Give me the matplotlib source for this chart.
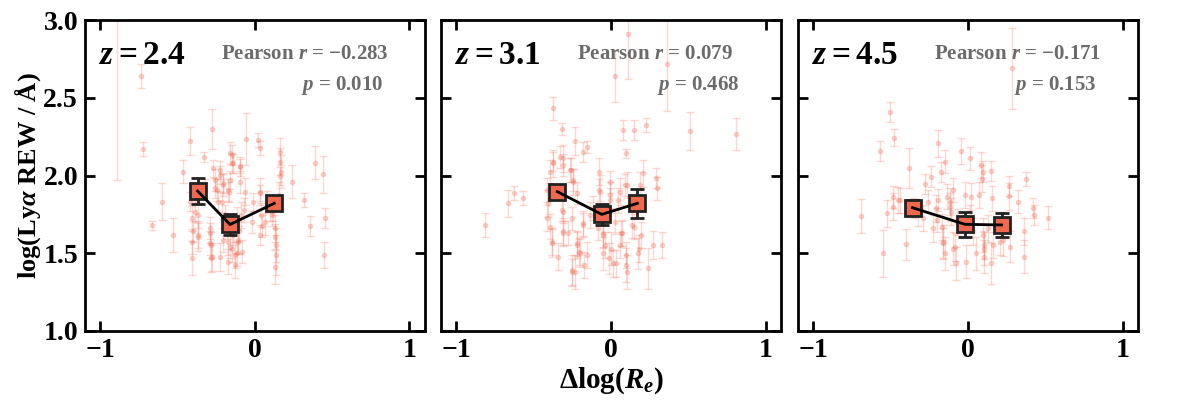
import matplotlib
matplotlib.use("Agg")
import matplotlib.pyplot as plt
import numpy as np

plt.rcParams["font.family"] = ["Liberation Serif", "DejaVu Serif"]
plt.rcParams["font.weight"] = "bold"
plt.rcParams["mathtext.fontset"] = "custom"
plt.rcParams["mathtext.rm"] = "Liberation Serif:bold"
plt.rcParams["mathtext.it"] = "Liberation Serif:italic:bold"
plt.rcParams["mathtext.bf"] = "Liberation Serif:bold"

# panel labels and statistics
redshifts = ["2.4", "3.1", "4.5"]
pearson_r = ["-0.283", "0.079", "-0.171"]
p_values = ["0.010", "0.468", "0.153"]

# z = 2.4 individual galaxies
x1 = [-0.895, -0.737, -0.722, -0.604, -0.664, -0.528, -0.468, -0.418, -0.41, -0.41,
      -0.37, -0.366, -0.33, -0.29, -0.284, -0.284, -0.276, -0.27, -0.259, -0.226,
      -0.215, -0.205, -0.194, -0.177, -0.166, -0.159, -0.151, -0.146, -0.151, -0.14,
      -0.129, -0.108, -0.095, -0.09, -0.086, -0.056, -0.064, 0.022, 0.033, 0.033,
      0.039, 0.033, 0.065, 0.162, 0.164, 0.169, 0.156, 0.134, 0.134, 0.13,
      0.242, 0.32, 0.358, 0.389, 0.443, 0.453, 0.449, -0.418, -0.388, -0.323,
      -0.237, -0.183, -0.118, -0.172, -0.101, -0.021, -0.01, 0.076, 0.108, 0.119,
      -0.41, -0.40, -0.367, -0.29, -0.29, -0.28, -0.226, -0.259, -0.248, -0.205,
      -0.172, -0.144, -0.161, -0.097, -0.097, -0.071, -0.108, -0.118, -0.161, -0.205,
      -0.226, -0.129, 0.162, 0.033, 0.044, 0.13, 0.13, 0.097]
y1 = [3.2, 2.64, 2.17, 1.832, 1.68, 1.617, 2.025, 2.22, 1.47, 1.575,
      1.62, 1.745, 2.12, 1.63, 1.553, 1.467, 2.30, 2.046, 1.918, 2.003,
      1.832, 1.94, 1.746, 1.575, 1.896, 1.971, 2.132, 2.08, 1.53, 1.617,
      1.49, 1.575, 2.06, 1.746, 1.51, 2.235, 1.896, 2.228, 2.175, 1.896,
      1.746, 1.617, 1.70, 2.153, 2.09, 2.025, 1.875, 1.553, 1.489, 1.66,
      1.96, 1.842, 1.677, 2.083, 2.007, 1.729, 1.489, 1.832, 1.768, 1.918,
      1.832, 1.66, 1.725, 1.446, 1.64, 1.70, 1.83, 1.83, 1.746, 1.77,
      1.725, 1.64, 1.607, 1.662, 1.566, 1.478, 2.035, 1.97, 1.907, 1.95,
      1.907, 2.078, 2.143, 2.057, 1.96, 1.778, 1.585, 1.50, 1.542, 1.585,
      1.478, 1.424, 1.997, 1.886, 1.675, 1.607, 1.41, 1.778]
e1 = [1.23, 0.079, 0.047, 0.12, 0.03, 0.107, 0.075, 0.09, 0.107, 0.08,
      0.085, 0.085, 0.03, 0.065, 0.085, 0.085, 0.13, 0.055, 0.065, 0.055,
      0.065, 0.075, 0.065, 0.085, 0.065, 0.055, 0.065, 0.065, 0.085, 0.065,
      0.085, 0.075, 0.045, 0.085, 0.075, 0.17, 0.085, 0.045, 0.045, 0.085,
      0.075, 0.065, 0.085, 0.085, 0.085, 0.107, 0.085, 0.107, 0.13, 0.085,
      0.107, 0.045, 0.065, 0.107, 0.12, 0.065, 0.085, 0.06, 0.07, 0.06,
      0.07, 0.07, 0.07, 0.08, 0.07, 0.07, 0.06, 0.07, 0.07, 0.06,
      0.08, 0.07, 0.09, 0.07, 0.08, 0.09, 0.06, 0.07, 0.07, 0.06,
      0.07, 0.06, 0.07, 0.06, 0.07, 0.08, 0.09, 0.08, 0.07, 0.08,
      0.09, 0.08, 0.06, 0.05, 0.07, 0.08, 0.11, 0.07]

# z = 3.1 individual galaxies
x2 = [0.113, 0.361, 0.027, -0.373, -0.319, -0.232, -0.157, -0.183, 0.081, 0.152,
      0.225, 0.096, 0.512, 0.81, -0.815, -0.664, -0.627, -0.571, -0.394, -0.373,
      -0.312, -0.26, -0.247, -0.405, -0.411, -0.383, -0.34, -0.312, -0.275, -0.254,
      -0.232, -0.222, -0.205, -0.178, -0.174, -0.157, -0.139, -0.075, -0.07, -0.049,
      -0.049, -0.038, -0.006, -0.001, 0.016, 0.033, 0.059, 0.07, 0.098, 0.098,
      0.102, 0.135, 0.182, 0.195, 0.204, 0.242, 0.292, 0.296, 0.333, 0.059,
      0.102, 0.189, -0.308, -0.254, -0.114, -0.081,
      -0.33, -0.373, -0.308, -0.265, -0.244, -0.222, -0.416, -0.319, -0.394, -0.384,
      -0.308, -0.222, -0.179, -0.2, -0.254, -0.077, -0.006, -0.006, 0.048, 0.091,
      0.151, 0.274, 0.177, -0.05, -0.013, 0.065, 0.026]
y2 = [2.908, 2.715, 2.64, 2.432, 2.30, 2.222, 2.185, 2.149, 2.293, 2.293,
      2.325, 2.143, 2.286, 2.267, 1.682, 1.821, 1.885, 1.857, 2.025, 2.078,
      2.11, 2.036, 1.96, 1.82, 1.725, 1.575, 1.478, 1.64, 1.63, 1.38,
      1.38, 1.553, 1.51, 1.682, 1.424, 1.489, 1.746, 2.025, 1.896, 1.617,
      1.5, 1.553, 1.875, 1.53, 1.435, 1.435, 1.553, 1.63, 1.424, 1.489,
      1.38, 1.682, 1.53, 1.617, 2.014, 1.403, 1.982, 1.918, 1.553, 1.896,
      1.94, 1.94, 1.768, 1.725, 1.79, 1.66,
      2.12, 2.089, 2.067, 2.035, 1.97, 1.885, 1.907, 1.778, 1.67, 1.564,
      1.628, 1.564, 1.693, 1.5, 1.39, 1.907, 1.96, 1.842, 1.842, 1.94,
      1.67, 1.553, 1.5, 1.628, 1.468, 1.628, 1.703]
e2 = [0.29, 0.30, 0.17, 0.075, 0.04, 0.09, 0.04, 0.065, 0.065, 0.065,
      0.045, 0.03, 0.12, 0.10, 0.075, 0.085, 0.045, 0.045, 0.075, 0.085,
      0.085, 0.075, 0.085, 0.085, 0.085, 0.085, 0.085, 0.085, 0.075, 0.085,
      0.107, 0.085, 0.085, 0.075, 0.085, 0.085, 0.085, 0.085, 0.107, 0.085,
      0.107, 0.085, 0.085, 0.107, 0.085, 0.085, 0.085, 0.085, 0.107, 0.085,
      0.107, 0.085, 0.085, 0.085, 0.085, 0.13, 0.065, 0.075, 0.085, 0.085,
      0.085, 0.085, 0.075, 0.075, 0.075, 0.075,
      0.07, 0.06, 0.07, 0.08, 0.07, 0.07, 0.08, 0.07, 0.08, 0.09,
      0.08, 0.08, 0.08, 0.09, 0.1, 0.07, 0.07, 0.08, 0.08, 0.07,
      0.08, 0.09, 0.1, 0.09, 0.1, 0.08, 0.08]

# z = 4.5 individual galaxies
x3 = [0.282, -0.506, -0.48, -0.57, -0.381, -0.193, -0.042, 0.012, -0.15, -0.172,
      -0.237, -0.279, 0.087, 0.152, 0.092, 0.374, 0.264, 0.264, 0.325, 0.422,
      0.426, 0.519, -0.69, -0.553, -0.527, -0.484, -0.452, -0.398, -0.29, -0.204,
      -0.165, -0.161, -0.15, -0.107, -0.096, -0.079, -0.014, -0.02, 0.017, 0.055,
      0.072, 0.094, 0.102, 0.105, 0.152, 0.163, 0.206, 0.364, 0.364, -0.225,
      -0.074, 0.012, 0.033, 0.13, 0.228, -0.35, -0.258, -0.118,
      -0.44, -0.483, -0.321, -0.202, -0.192, -0.138, -0.116, -0.095, -0.159, -0.084,
      0.099, 0.154, 0.272, 0.106, 0.229]
y3 = [2.689, 2.41, 2.243, 2.158, 2.05, 2.207, 2.158, 2.11, 2.09, 2.025,
      1.993, 1.943, 2.067, 2.029, 1.98, 1.978, 1.93, 1.865, 1.832, 1.789,
      1.746, 1.729, 1.74, 1.5, 1.757, 1.8, 1.842, 1.557, 1.725, 1.789,
      1.67, 1.575, 1.5, 1.768, 1.53, 1.435, 1.446, 1.875, 1.864, 1.5,
      1.875, 1.617, 1.53, 1.478, 1.435, 1.553, 1.575, 1.64, 1.478, 1.66,
      1.70, 1.725, 1.64, 1.66, 1.682, 1.79, 1.832, 1.832,
      1.842, 1.864, 1.757, 1.714, 1.842, 1.864, 1.8, 1.907, 1.564, 1.542,
      2.025, 1.853, 1.542, 1.553, 1.585]
e3 = [0.26, 0.065, 0.055, 0.065, 0.13, 0.085, 0.085, 0.075, 0.075, 0.065,
      0.065, 0.065, 0.085, 0.065, 0.085, 0.045, 0.065, 0.085, 0.075, 0.065,
      0.065, 0.075, 0.11, 0.15, 0.085, 0.085, 0.085, 0.10, 0.085, 0.085,
      0.085, 0.107, 0.107, 0.085, 0.107, 0.107, 0.107, 0.085, 0.085, 0.107,
      0.085, 0.107, 0.107, 0.107, 0.13, 0.085, 0.085, 0.085, 0.107, 0.085,
      0.085, 0.085, 0.085, 0.085, 0.085, 0.065, 0.075, 0.085,
      0.08, 0.07, 0.08, 0.08, 0.07, 0.08, 0.09, 0.08, 0.1, 0.09,
      0.07, 0.08, 0.1, 0.09, 0.1]

# binned means
bx = [[-0.371, -0.161, 0.125], [-0.347, -0.06, 0.171], [-0.359, -0.02, 0.217]]
by = [[1.90, 1.685, 1.821], [1.896, 1.75, 1.821], [1.793, 1.686, 1.682]]
be = [[0.086, 0.068, 0.04], [0.022, 0.068, 0.094], [0.05, 0.08, 0.075]]

xs = [x1, x2, x3]
ys = [y1, y2, y3]
es = [e1, e2, e3]

fig = plt.figure(figsize=(12, 4), dpi=100)
lefts = [0.0708, 0.3675, 0.665]
point_color = "#f4735c"
box_color = "#f0694f"

for i in range(3):
    ax = fig.add_axes([lefts[i], 0.1725, 0.2833, 0.7775])
    ax.errorbar(xs[i], ys[i], yerr=es[i], fmt="o", ms=3, color=point_color,
                alpha=0.28, elinewidth=1, capsize=3, capthick=1, zorder=1)
    ax.errorbar(bx[i], by[i], yerr=be[i], fmt="none", ecolor="#222222",
                elinewidth=2, capsize=5, capthick=2, zorder=2)
    ax.plot(bx[i], by[i], "s", ms=12, mfc=box_color, mec="#222222", mew=2,
            linestyle="none", zorder=2.5)
    ax.plot(bx[i], by[i], color="black", lw=2, zorder=3)

    ax.set_xlim(-1.1, 1.1)
    ax.set_ylim(1.0, 3.0)
    ax.set_xticks([-1, 0, 1])
    ax.set_yticks([1.0, 1.5, 2.0, 2.5, 3.0])
    ax.tick_params(direction="in", top=True, right=True, length=7, width=2,
                   labelsize=20, pad=5)
    for s in ax.spines.values():
        s.set_linewidth(2)
    if i == 0:
        ax.set_yticklabels(["1.0", "1.5", "2.0", "2.5", "3.0"])
        ax.set_ylabel(r"log(Ly$\alpha$ REW / Å)", fontsize=19, fontweight="bold",
                      labelpad=0)
    else:
        ax.set_yticklabels([])
    if i == 1:
        ax.set_xlabel(r"$\Delta$log($R_e$)", fontsize=21, fontweight="bold",
                      labelpad=2)

    ax.text(0.04, 0.86, r"$z = $" + redshifts[i], transform=ax.transAxes,
            fontsize=24, fontweight="bold")
    r_txt = pearson_r[i].replace("-", "−")
    ax.text(0.40, 0.875, "Pearson " + r"$r$" + " = " + r_txt, transform=ax.transAxes,
            fontsize=15, fontweight="bold", color="#6b6b6b")
    ax.text(0.635, 0.775, r"$p$" + " = " + p_values[i], transform=ax.transAxes,
            fontsize=15, fontweight="bold", color="#6b6b6b")

fig.savefig("out.png", dpi=100)
